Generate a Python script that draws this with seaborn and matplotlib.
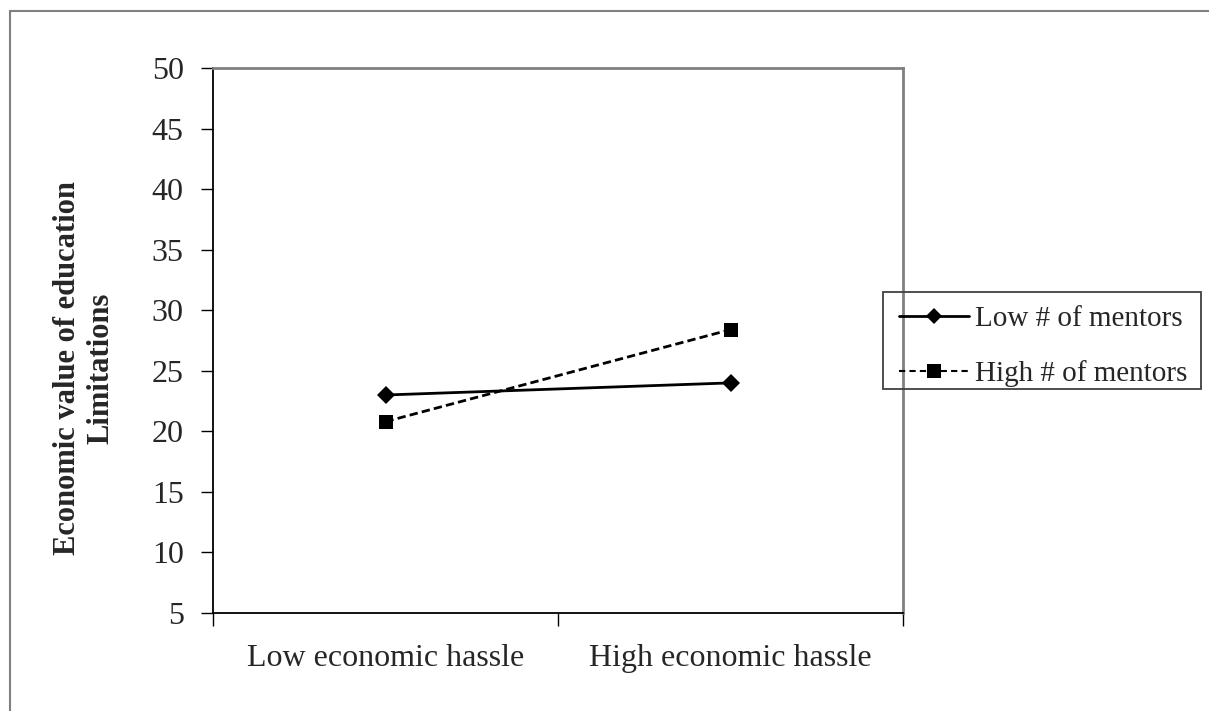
import pandas as pd
import matplotlib.pyplot as plt
import seaborn as sns
from matplotlib.lines import Line2D
from matplotlib.patches import Rectangle

# datos
categorias = ["Low economic hassle", "High economic hassle"]
grupos = ["Low # of mentors", "High # of mentors"]
low_mentors = [23.0, 24.0]
high_mentors = [20.8, 28.4]
y_ticks = [5, 10, 15, 20, 25, 30, 35, 40, 45, 50]

df = pd.DataFrame({
    "hassle": categorias * 2,
    "grupo": [grupos[0]] * 2 + [grupos[1]] * 2,
    "valor": low_mentors + high_mentors,
})

sns.set_style("white")
plt.rcParams["font.family"] = ["Liberation Serif", "DejaVu Serif"]

fig = plt.figure(figsize=(12.09, 7.11), dpi=100)
ax = fig.add_axes([213 / 1209, 1 - 613 / 711, 690 / 1209, 545 / 711])

sns.lineplot(data=df, x="hassle", y="valor", hue="grupo", style="grupo",
             palette=["black", "black"], markers={grupos[0]: "D", grupos[1]: "s"},
             dashes={grupos[0]: "", grupos[1]: (3, 1.5)}, linewidth=2,
             markersize=10, markeredgewidth=0, ax=ax, legend=False, sort=False)
# el rombo un poco mas chico
for ln in ax.lines[:1]:
    ln.set_markersize(9)

ax.set_xlim(-0.5, 1.5)
ax.set_ylim(5, 50)
ax.set_yticks(y_ticks)
ax.set_xticks([-0.5, 0.5, 1.5])
ax.set_xticklabels([])
ax.set_xticks([0, 1], minor=True)
ax.set_xticklabels(categorias, minor=True)
ax.tick_params(axis="x", which="major", direction="out", length=9, width=1, color="black", bottom=True)
ax.tick_params(axis="x", which="minor", length=0, labelsize=23, pad=22)
ax.tick_params(axis="y", direction="out", length=9, width=1, color="black", left=True, labelsize=23, pad=12)
ax.set_xlabel("")
ax.set_ylabel("")

# titulo del eje y en dos lineas
fig.text(84 / 1209, 1 - 368 / 711, "Economic value of education\nLimitations", rotation=90,
         ha="center", va="center", multialignment="center", fontsize=22, fontweight="bold")

for s in ["left", "bottom"]:
    ax.spines[s].set_color("black")
    ax.spines[s].set_linewidth(1.3)
for s in ["top", "right"]:
    ax.spines[s].set_color("#808080")
    ax.spines[s].set_linewidth(2)
    ax.spines[s].set_visible(True)

handles = [
    Line2D([], [], color="black", lw=2, marker="D", markersize=8, markeredgewidth=0),
    Line2D([], [], color="black", lw=1.5, ls=(0, (3, 2)), marker="s", markersize=10, markeredgewidth=0),
]
leg = fig.legend(handles, grupos, loc="upper left", bbox_to_anchor=(883 / 1209, 1 - 290 / 711),
                 fontsize=21, frameon=False, borderpad=0.55, handlelength=2.4,
                 handletextpad=0.2, labelspacing=0.95, borderaxespad=0)

# marco de la leyenda
fig.add_artist(Rectangle((883 / 1209, 1 - 389 / 711), 318 / 1209, 97 / 711, transform=fig.transFigure,
                         fill=False, edgecolor="#404040", lw=1.3))

# borde exterior (solo arriba e izquierda visibles)
fig.add_artist(Line2D([10 / 1209, 1], [1 - 11 / 711, 1 - 11 / 711], color="#808080", lw=1.5, transform=fig.transFigure))
fig.add_artist(Line2D([10 / 1209, 10 / 1209], [0, 1 - 11 / 711], color="#808080", lw=1.5, transform=fig.transFigure))

fig.savefig("out.png", dpi=100)
